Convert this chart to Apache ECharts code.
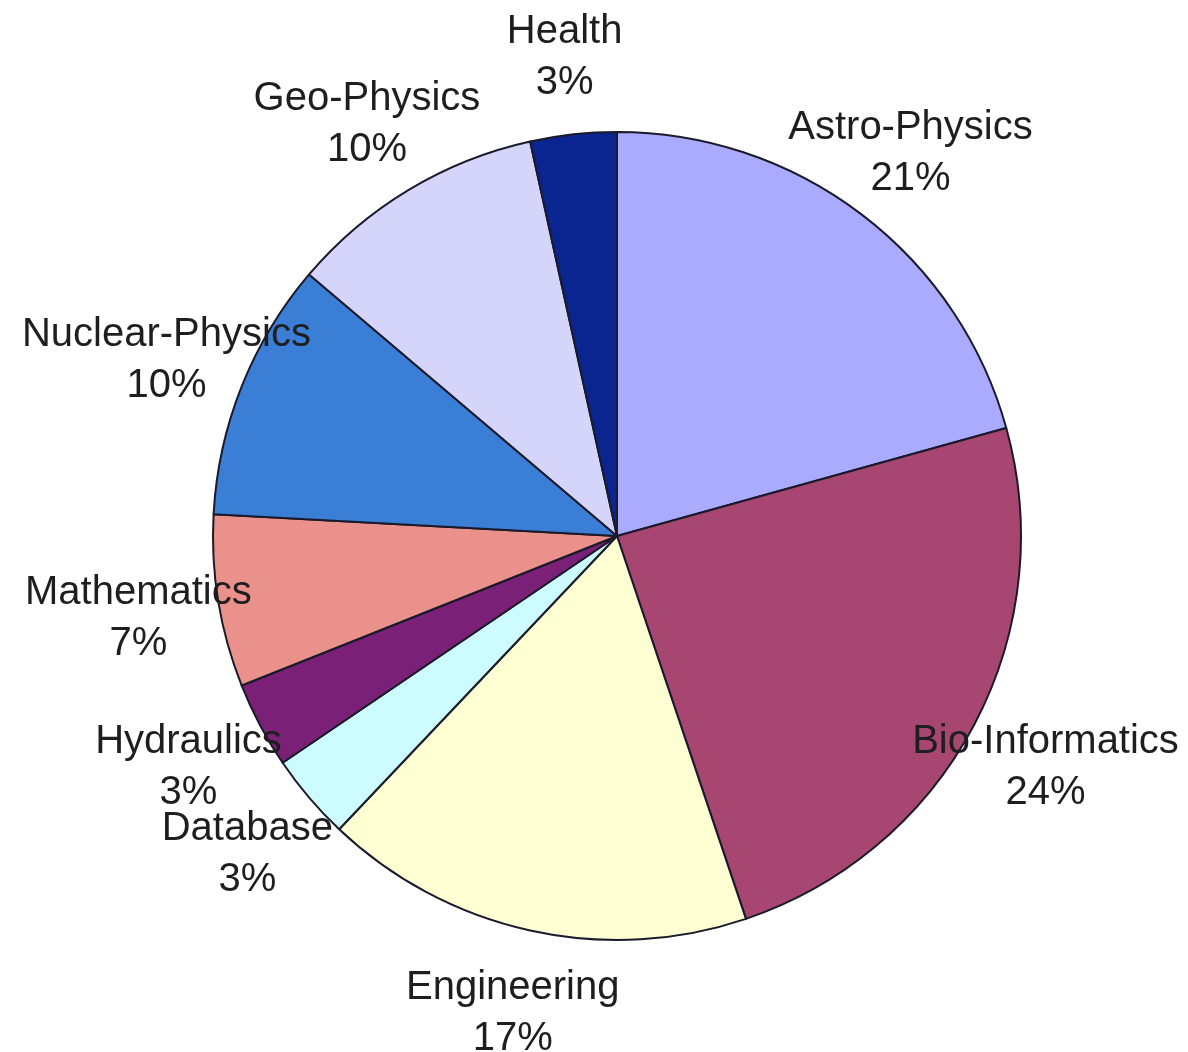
<!DOCTYPE html>
<html>
<head>
<meta charset="utf-8">
<script src="https://cdn.jsdelivr.net/npm/echarts@6/dist/echarts.min.js"></script>
<style>
html,body{margin:0;padding:0;background:#fff;}
#chart{width:1188px;height:1052px;}
</style>
</head>
<body>
<div id="chart"></div>
<script>
const categories = ['Astro-Physics','Bio-Informatics','Engineering','Database','Hydraulics','Mathematics','Nuclear-Physics','Geo-Physics','Health'];
const counts = [6,7,5,1,1,2,3,3,1];
const colors = ['#AAAAFF','#A84672','#FFFFD4','#CCFCFF','#7B2077','#EA918C','#3A7ED6','#D5D5FB','#0A2590'];

const CX = 617, CY = 536, R = 404, LABEL_R = 485, LABEL_DY = 4;
const total = counts.reduce((a,b)=>a+b,0);

const chart = echarts.init(document.getElementById('chart'));
chart.setOption({
  animation: false,
  backgroundColor: '#fff',
  series: [{
    type: 'pie',
    center: [CX, CY],
    radius: R,
    startAngle: 90,
    clockwise: true,
    avoidLabelOverlap: false,
    data: categories.map((c,i)=>({name:c, value:counts[i], itemStyle:{color:colors[i]}})),
    itemStyle: {borderColor:'#1a1a2a', borderWidth:2},
    emphasis: {disabled:true},
    labelLine: {show:false},
    label: {
      show: true,
      position: 'outside',
      fontFamily: 'Liberation Sans, Arial, sans-serif',
      fontSize: 40,
      lineHeight: 51,
      color: '#1e1e1e',
      align: 'center',
      formatter: p => p.name + '\n' + Math.round(p.percent) + '%'
    },
    labelLayout: function (params) {
      const i = params.dataIndex;
      let before = 0;
      for (let k = 0; k < i; k++) before += counts[k];
      const mid = (before + counts[i] / 2) / total * 2 * Math.PI;
      return {
        x: CX + LABEL_R * Math.sin(mid),
        y: CY - LABEL_R * Math.cos(mid) + LABEL_DY,
        align: 'center',
        verticalAlign: 'middle'
      };
    }
  }]
});
</script>
</body>
</html>
